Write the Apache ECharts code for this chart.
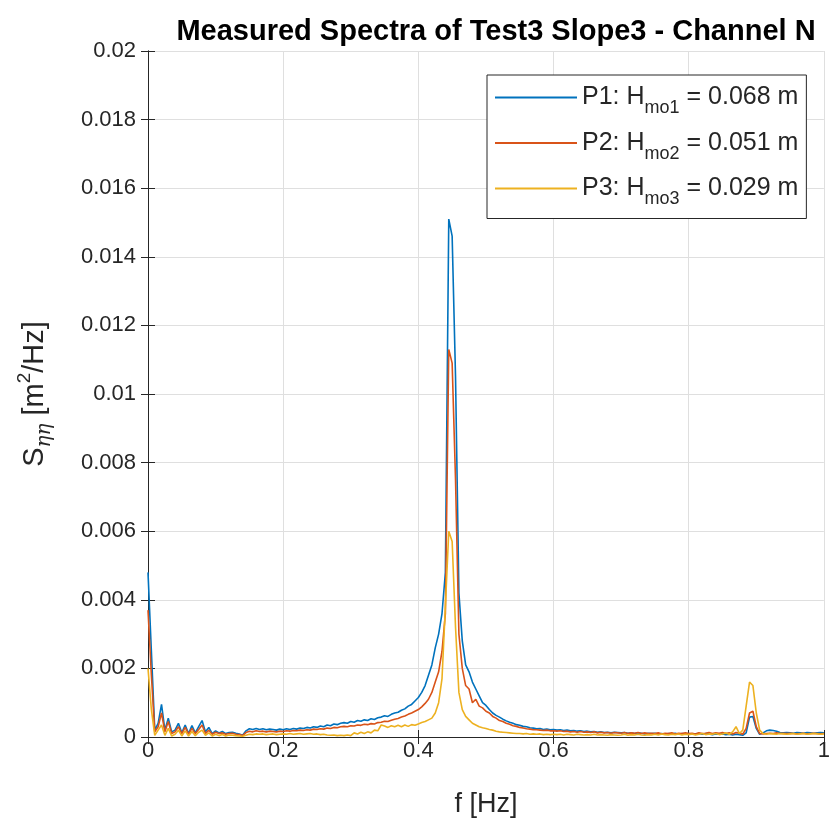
<!DOCTYPE html>
<html>
<head>
<meta charset="utf-8">
<script src="https://cdn.jsdelivr.net/npm/echarts@6/dist/echarts.min.js"></script>
<style>
  html, body { margin: 0; padding: 0; background: #fff; }
  #chart { width: 833px; height: 823px; }
</style>
</head>
<body>
<div id="chart"></div>
<script>
// frequency step of the spectra, Hz (values below start at f = 0)
var df = 0.005;

// P1 spectrum, m^2/Hz
var p1 = [
  0.0048,0.0025,0.0002,0.0004,0.00095,0.0002,0.00055,0.00015,0.0002,0.0004,
  0.00012,0.00035,0.0001,0.00033,0.00012,0.0003,0.00048,0.00015,0.00028,0.0001,
  0.00018,0.00012,0.00016,0.0001,0.00013,0.00014,0.00011,0.00009,0.00005,0.00018,
  0.00024,0.00022,0.00025,0.00022,0.00024,0.00021,0.00023,0.00022,0.0002,0.00023,
  0.00021,0.00024,0.00022,0.00025,0.00023,0.00026,0.00025,0.00028,0.00026,0.0003,
  0.00028,0.00032,0.0003,0.00035,0.00033,0.00038,0.00036,0.0004,0.00042,0.0004,
  0.00045,0.00043,0.00048,0.00046,0.0005,0.00048,0.00053,0.00051,0.00056,0.00058,
  0.00062,0.0006,0.00066,0.0007,0.00072,0.00078,0.00082,0.0009,0.00095,0.00105,
  0.00115,0.0013,0.0015,0.0018,0.0021,0.0026,0.003,0.0036,0.0048,0.0151,
  0.0146,0.0105,0.0042,0.0028,0.0021,0.0019,0.0016,0.0014,0.0012,0.001,
  0.00092,0.0008,0.0007,0.00063,0.00058,0.00052,0.00047,0.00043,0.0004,0.00036,
  0.00034,0.00031,0.0003,0.00027,0.00026,0.00024,0.00025,0.00022,0.00023,0.00021,
  0.00022,0.0002,0.00021,0.00019,0.0002,0.00018,0.00019,0.00017,0.00018,0.00016,
  0.00017,0.00015,0.00016,0.00014,0.00015,0.00013,0.00014,0.00012,0.00014,0.00013,
  0.00012,0.00013,0.00011,0.00012,0.0001,0.00012,0.00011,0.00009,0.00011,0.0001,
  0.00011,0.00009,0.0001,0.00008,0.0001,0.00009,0.00011,0.00008,0.0001,0.00009,
  0.0001,0.00008,0.00009,0.0001,0.00008,0.0001,0.00009,0.00007,0.00009,0.00008,
  0.00009,0.00007,0.00008,0.00006,0.00008,0.00007,0.00005,0.00012,0.00058,0.0006,
  0.00025,0.00008,0.00012,0.00018,0.0002,0.00019,0.00017,0.00013,0.00012,0.00013,
  0.00012,0.00011,0.00013,0.00012,0.00011,0.00013,0.00012,0.00011,0.00012,0.00013,
  0.00012
];

// P2 spectrum, m^2/Hz
var p2 = [
  0.0037,0.0018,0.00015,0.0003,0.0007,0.00015,0.00045,0.0001,0.00015,0.0003,
  0.0001,0.00028,0.00008,0.00025,0.0001,0.00022,0.00035,0.0001,0.0002,0.00008,
  0.00014,0.0001,0.00012,0.00008,0.0001,0.00011,0.00008,0.00007,0.00004,0.00013,
  0.00017,0.00015,0.00018,0.00016,0.00017,0.00015,0.00017,0.00016,0.00015,0.00017,
  0.00016,0.00018,0.00017,0.00019,0.00018,0.0002,0.00019,0.00021,0.0002,0.00023,
  0.00022,0.00024,0.00023,0.00026,0.00025,0.00028,0.00027,0.0003,0.00031,0.0003,
  0.00033,0.00032,0.00035,0.00034,0.00037,0.00036,0.00039,0.00038,0.00042,0.00043,
  0.00046,0.00045,0.00049,0.00052,0.00054,0.00058,0.00061,0.00066,0.0007,0.00075,
  0.0008,0.00088,0.00098,0.0011,0.0013,0.0016,0.0019,0.0025,0.0036,0.0113,
  0.0109,0.0075,0.003,0.002,0.0015,0.0014,0.001,0.0011,0.0009,0.00085,
  0.00075,0.0007,0.0006,0.00055,0.00048,0.00045,0.0004,0.00037,0.00033,0.00031,
  0.00028,0.00026,0.00024,0.00023,0.00021,0.00021,0.0002,0.00019,0.0002,0.00018,
  0.00018,0.00017,0.00018,0.00016,0.00017,0.00015,0.00016,0.00014,0.00016,0.00014,
  0.00015,0.00013,0.00015,0.00012,0.00014,0.00012,0.00013,0.00011,0.00013,0.00012,
  0.00011,0.00013,0.0001,0.00012,0.00011,0.00013,0.0001,0.00012,0.0001,0.00011,
  0.0001,0.00012,0.00009,0.00011,0.0001,0.00012,0.00009,0.00011,0.0001,0.00012,
  0.0001,0.00011,0.00009,0.00012,0.0001,0.00011,0.00013,0.0001,0.00012,0.00011,
  0.00013,0.0001,0.00012,0.00009,0.00013,0.00011,0.00008,0.00025,0.0007,0.00075,
  0.0003,0.0001,0.00009,0.0001,0.00011,0.0001,0.00012,0.0001,0.00011,0.0001,
  0.00011,0.0001,0.00009,0.0001,0.00011,0.00009,0.0001,0.00011,0.0001,0.00009,
  0.0001
];

// P3 spectrum, m^2/Hz
var p3 = [
  0.002,0.0008,0.00005,0.0002,0.00035,0.00005,0.00025,0.00003,0.00008,0.0002,
  0.00003,0.00018,0.00003,0.00016,0.00004,0.00014,0.0002,0.00005,0.00012,0.00003,
  0.00008,0.00004,0.00007,0.00003,0.00006,0.00005,0.00004,0.00003,0.00002,0.00005,
  0.00008,0.00007,0.00009,0.00008,0.00009,0.00007,0.00008,0.00009,0.00007,0.00008,
  0.00009,0.00008,0.0001,0.00008,0.00009,0.0001,0.00008,0.00009,0.0001,0.00008,
  0.00009,0.00007,0.00008,0.00006,0.00005,0.00006,0.00004,0.00005,0.00004,0.00006,
  0.00004,0.00012,0.00009,0.00014,0.0001,0.00015,0.00012,0.0002,0.00018,0.00035,
  0.00032,0.00028,0.00033,0.0003,0.00034,0.0003,0.00035,0.00031,0.00036,0.00034,
  0.00038,0.00042,0.00045,0.0005,0.00055,0.0007,0.001,0.0017,0.0038,0.006,
  0.0057,0.0032,0.0013,0.0008,0.0006,0.0005,0.0004,0.00035,0.0003,0.00027,
  0.00025,0.00022,0.0002,0.00017,0.00015,0.00014,0.00013,0.00012,0.00011,0.0001,
  0.0001,0.00009,0.0001,0.00008,0.00009,0.00008,0.00009,0.00007,0.00008,0.00007,
  0.00008,0.00007,0.00008,0.00006,0.00008,0.00007,0.00006,0.00008,0.00007,0.00006,
  0.00007,0.00006,0.00008,0.00006,0.00007,0.00006,0.00005,0.00007,0.00006,0.00005,
  0.00006,0.00008,0.00005,0.00007,0.00006,0.00008,0.00006,0.00005,0.00007,0.00006,
  0.00008,0.00006,0.00009,0.00007,0.00006,0.00008,0.00007,0.00009,0.00006,0.00008,
  0.00007,0.00009,0.00006,0.00008,0.0001,0.00007,0.00009,0.00008,0.0001,0.00007,
  0.00009,0.00012,0.00008,0.00015,0.0003,0.0001,0.0002,0.0009,0.0016,0.0015,
  0.0007,0.0002,0.0001,0.00008,0.0001,0.00009,0.00008,0.0001,0.00009,0.00008,
  0.00009,0.0001,0.00008,0.00009,0.0001,0.00008,0.00009,0.0001,0.00009,0.00008,
  0.00009
];

var names = ['P1', 'P2', 'P3'];
var subs = ['mo1', 'mo2', 'mo3'];
var hmo = ['0.068', '0.051', '0.029'];
var colors = ['#0072BD', '#D95319', '#EDB120'];

var font = 'Liberation Sans';
var ink = '#262626';

function pairs(arr) {
  var out = [];
  for (var i = 0; i < arr.length; i++) out.push([i * df, arr[i]]);
  return out;
}

var chart = echarts.init(document.getElementById('chart'));

var series = [p1, p2, p3].map(function (arr, k) {
  return {
    name: names[k],
    type: 'line',
    data: pairs(arr),
    showSymbol: false,
    symbol: 'none',
    lineStyle: { color: colors[k], width: 1.6 },
    itemStyle: { color: colors[k] },
    animation: false
  };
});

var option = {
  backgroundColor: '#fff',
  title: {
    text: 'Measured Spectra of Test3 Slope3 - Channel N',
    left: 491,
    top: 12,
    textAlign: 'center',
    textStyle: { fontFamily: font, fontSize: 29, fontWeight: 'bold', color: '#000' }
  },
  grid: { left: 148, right: 1, top: 51, bottom: 86 },
  legend: {
    data: names,
    orient: 'vertical',
    left: 487,
    top: 75,
    padding: [10, 8, 10, 8],
    itemGap: 13,
    itemWidth: 82,
    itemHeight: 2,
    icon: 'rect',
    backgroundColor: '#fff',
    borderColor: ink,
    borderWidth: 1,
    formatter: function (name) {
      var k = names.indexOf(name);
      return '{t|' + name + ': H}{s|' + subs[k] + '}{t| = ' + hmo[k] + ' m}';
    },
    textStyle: {
      fontFamily: font,
      color: ink,
      fontSize: 25,
      rich: {
        t: { fontFamily: font, fontSize: 25, color: ink, lineHeight: 40, verticalAlign: 'middle' },
        s: { fontFamily: font, fontSize: 18, color: ink, lineHeight: 10, verticalAlign: 'bottom' }
      }
    }
  },
  xAxis: [{
    type: 'value',
    min: 0, max: 1, interval: 0.2,
    name: 'f [Hz]',
    nameLocation: 'middle',
    nameGap: 54,
    nameTextStyle: { fontFamily: font, fontSize: 27, color: ink },
    axisLine: { lineStyle: { color: ink, width: 1 } },
    axisTick: { inside: true, length: 7, lineStyle: { color: ink } },
    axisLabel: { fontFamily: font, fontSize: 22, color: ink, margin: 3 },
    splitLine: { show: true, lineStyle: { color: '#dfdfdf', width: 1 } }
  }, {
    type: 'value',
    position: 'top',
    min: 0, max: 1, interval: 0.2,
    axisLine: { lineStyle: { color: ink, width: 1 } },
    axisTick: { inside: true, length: 7, lineStyle: { color: ink } },
    axisLabel: { show: false },
    splitLine: { show: false }
  }],
  yAxis: [{
    type: 'value',
    min: 0, max: 0.02, interval: 0.002,
    name: '{a|S}{b|ηη}{a| [m}{c|2}{a|/Hz]}',
    nameLocation: 'middle',
    nameRotate: 90,
    nameGap: 93,
    nameTextStyle: {
      fontFamily: font,
      fontSize: 29,
      color: ink,
      rich: {
        a: { fontFamily: font, fontSize: 29, color: ink, lineHeight: 40, verticalAlign: 'middle' },
        b: { fontFamily: 'DejaVu Serif', fontStyle: 'italic', fontSize: 20, color: ink, lineHeight: 14, verticalAlign: 'bottom' },
        c: { fontFamily: font, fontSize: 19, color: ink, lineHeight: 16, verticalAlign: 'top' }
      }
    },
    axisLine: { show: true, lineStyle: { color: ink, width: 1 } },
    axisTick: { show: true, inside: true, length: 7, lineStyle: { color: ink } },
    axisLabel: { fontFamily: font, fontSize: 22, color: ink, margin: 12 },
    splitLine: { show: true, lineStyle: { color: '#dfdfdf', width: 1 } }
  }, {
    type: 'value',
    position: 'right',
    min: 0, max: 0.02, interval: 0.002,
    axisLine: { show: true, lineStyle: { color: ink, width: 1 } },
    axisTick: { show: true, inside: true, length: 7, lineStyle: { color: ink } },
    axisLabel: { show: false },
    splitLine: { show: false }
  }],
  series: series
};

chart.setOption(option);
</script>
</body>
</html>
